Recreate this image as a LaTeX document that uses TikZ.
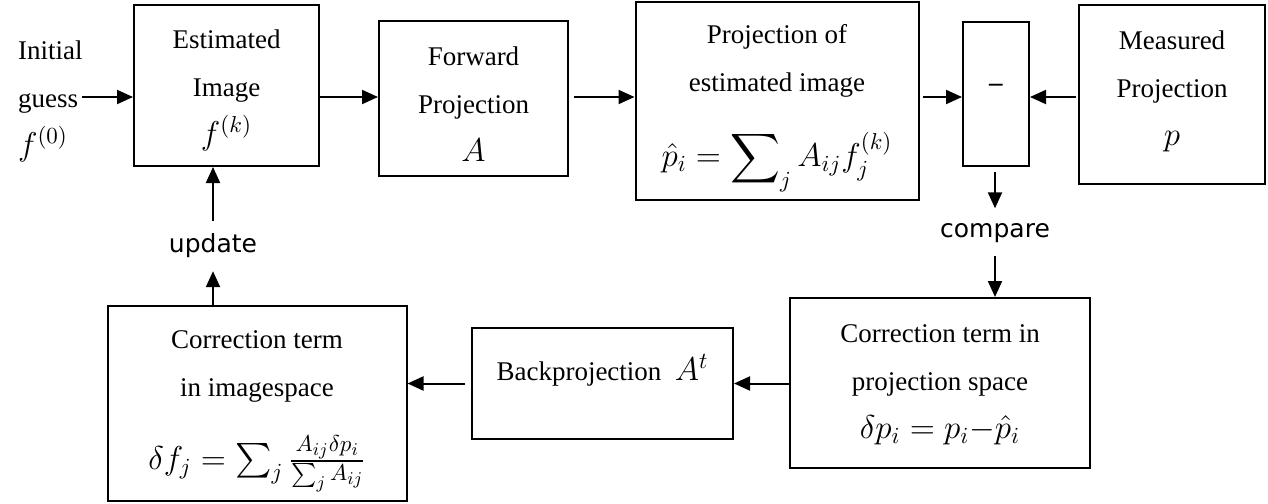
\RequirePackage{fix-cm}
\documentclass[tikz,border=0pt]{standalone}
\usepackage{exscale}
\usepackage{fontspec}
\setmainfont{Liberation Serif}
\newfontfamily\labelfont{DejaVu Sans}
\DeclareMathSizes{13.5}{16.5}{11.5}{9}
\usetikzlibrary{arrows.meta}

\tikzset{
  box/.style={draw, line width=1pt, inner sep=0pt},
  txt/.style={align=center, font=\fontsize{13.5}{24}\selectfont},
  lbl/.style={font=\labelfont\fontsize{12.5}{15}\selectfont},
  flow/.style={-{Triangle[length=8pt,width=7pt]}, line width=1pt}
}

\begin{document}
\begin{tikzpicture}[x=0.5pt, y=-0.5pt]
    \useasboundingbox (0,0) rectangle (1268,503);
    % Top row of boxes
    \node[box, minimum width=92.5pt, minimum height=80.5pt] (est) at (226.5,85.5) {};
    \node[box, minimum width=94.5pt, minimum height=77.5pt] (fwd) at (473.5,98.5) {};
    \node[box, minimum width=141.5pt, minimum height=99pt] (proj) at (777,101) {};
    \node[box, minimum width=33pt, minimum height=72pt] (minus) at (996,94) {};
    \node[box, minimum width=93pt, minimum height=89.5pt] (meas) at (1172,94.5) {};
    % Bottom row of boxes
    \node[box, minimum width=150pt, minimum height=85pt] (corrproj) at (940,383) {};
    \node[box, minimum width=130.5pt, minimum height=55.5pt] (bp) at (602.5,383.5) {};
    \node[box, minimum width=149.5pt, minimum height=97.5pt] (corrimg) at (257,403.5) {};

    % Texts
    \node[txt, align=left, anchor=west] (init) at (11,101) {Initial\\guess\\$f^{(0)}$};
    \node[txt] (estT) at (226.5,90.5) {Estimated\\Image\\$f^{(k)}$};
    \node[txt] (fwdT) at (473.5,104) {Forward\\Projection\\$A$};
    \node[txt] (projT) at (777,108.5) {Projection of\\estimated image\\[13.5pt]$\hat{p}_i=\displaystyle\sum\nolimits_j A_{ij}f_j^{(k)}$};
    \node[txt] (minusT) at (996,88) {\textbf{--}};
    \node[txt] (measT) at (1172,91) {Measured\\Projection\\$p$};
    \node[txt] (corrprojT) at (940,385) {Correction term in\\projection space\\$\delta p_i=p_i{-}\hat{p}_i$};
    \node[txt] (bpT) at (602.5,370) {Backprojection\ \ $A^t$};
    \node[txt] (corrimgT) at (257,411) {Correction term\\in imagespace\\[12.5pt]$\delta f_j=\sum_j\frac{A_{ij}\delta p_i}{\sum_j A_{ij}}$};
    \node[lbl] (cmp) at (995,233) {compare};
    \node[lbl] (upd) at (213,246) {update};

    % Arrows of the top row
    \coordinate (row) at (0,97);
    \coordinate (g) at (82,97);
    \draw[flow] (g) -- (g -| est.west);
    \draw[flow] (est.east |- row) -- (fwd.west |- row);
    \draw[flow, shorten <=2.5pt] (fwd.east |- row) -- (proj.west |- row);
    \draw[flow, shorten <=1.5pt] (proj.east |- row) -- (minus.west |- row);
    \draw[flow, shorten <=1pt] (meas.west |- row) -- (minus.east |- row);

    % Down through compare
    \draw[flow, shorten <=2.5pt, shorten >=4pt] (minus.south -| cmp) -- (cmp);
    \draw[flow, shorten <=3pt] (cmp) -- (cmp |- corrproj.north);

    % Arrows of the bottom row
    \draw[flow] (corrproj.west |- bp.east) -- (bp.east);
    \draw[flow, shorten <=3pt] (bp.west) -- (bp.west -| corrimg.east);

    % Up through update
    \draw[flow, shorten >=3pt] (corrimg.north -| upd) -- (upd);
    \draw[flow, shorten <=3pt] (upd) -- (est.south -| upd);
\end{tikzpicture}
\end{document}
